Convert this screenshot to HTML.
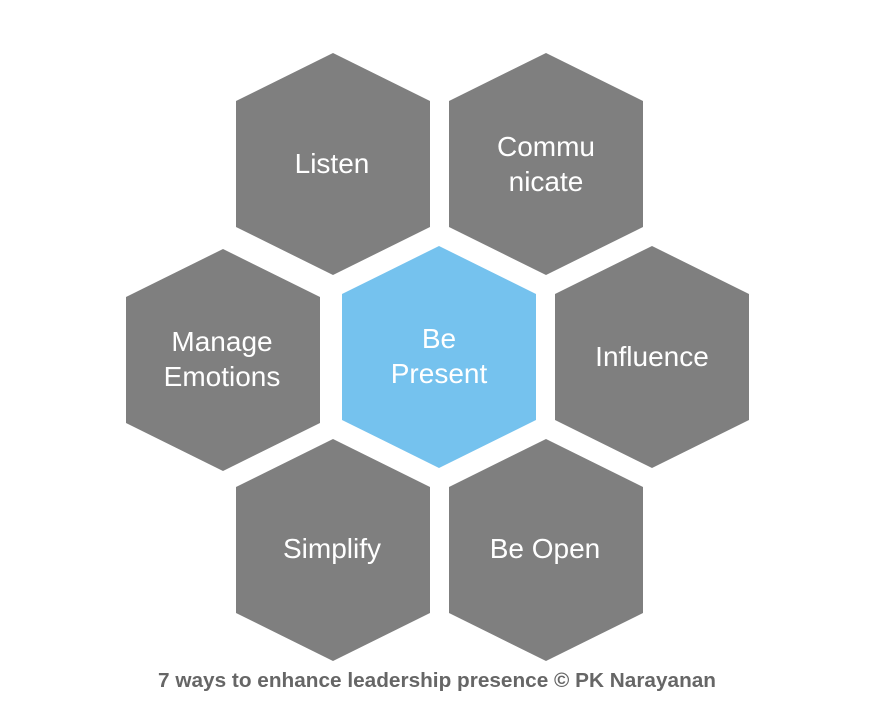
<!DOCTYPE html>
<html><head><meta charset="utf-8"><style>
html,body{margin:0;padding:0;background:#fff;}
svg{display:block}
text{font-family:"Liberation Sans",sans-serif;fill:#fff;font-size:28px;text-anchor:middle}
</style></head><body>
<svg width="893" height="713" viewBox="0 0 893 713" xmlns="http://www.w3.org/2000/svg">
<defs>
<polygon id="h" points="0,-111 97,-63 97,63 0,111 -97,63 -97,-63"/>
</defs>
<g fill="#7f7f7f">
<use href="#h" x="333" y="164"/>
<use href="#h" x="546" y="164"/>
<use href="#h" x="223" y="360"/>
<use href="#h" x="652" y="357"/>
<use href="#h" x="333" y="550"/>
<use href="#h" x="546" y="550"/>
</g>
<use href="#h" x="439" y="357" fill="#75c2ee"/>
<text x="332" y="173">Listen</text>
<text x="546" y="156">Commu</text>
<text x="546" y="191">nicate</text>
<text x="222" y="351">Manage</text>
<text x="222" y="386">Emotions</text>
<text x="439" y="348">Be</text>
<text x="439" y="383">Present</text>
<text x="652" y="366">Influence</text>
<text x="332" y="558">Simplify</text>
<text x="545" y="558">Be Open</text>
<text x="437" y="687" style="fill:#666;font-size:20px;font-weight:bold" textLength="558" lengthAdjust="spacingAndGlyphs">7 ways to enhance leadership presence © PK Narayanan</text>
</svg>
</body></html>
